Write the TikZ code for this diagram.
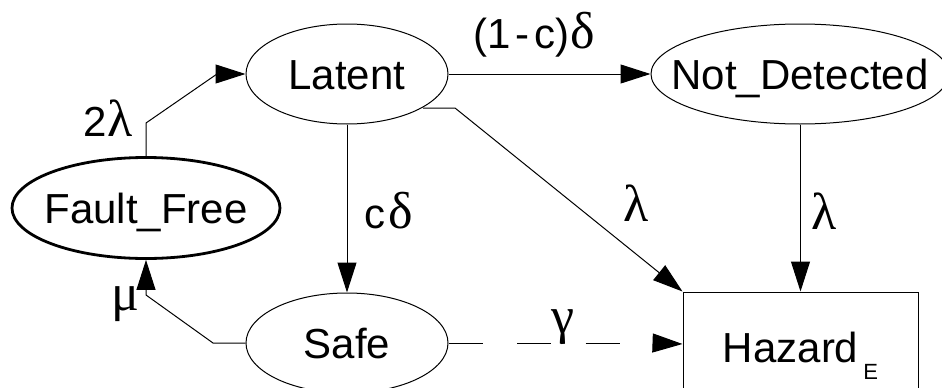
\documentclass[tikz,border=0pt]{standalone}
\usepackage{fontspec}
\setmainfont{Liberation Sans}
\newfontfamily\grk{Liberation Serif}
\usetikzlibrary{shapes.geometric,arrows.meta,calc}
\newcommand\zw[1]{\makebox[0pt]{#1}}
\newcommand\gkf{\fontsize{52}{56}\grk}
\begin{document}
\begin{tikzpicture}[x=1pt,y=-1pt,
  st/.style={ellipse,draw,line width=1pt,inner sep=0pt,minimum width=202pt,minimum height=100pt,
    font=\fontsize{42}{48}\selectfont,text height=30pt,text depth=0pt},
  arr/.style={line width=1pt,-{Triangle[length=30pt,width=19pt]}},
  lbl/.style={inner sep=0pt,font=\fontsize{42}{48}\selectfont},
  gk/.style={inner sep=0pt,font=\gkf}]
\useasboundingbox (0,0) rectangle (942,388);
\clip (0,0) rectangle (942,388);
% states
\node[st] (lat) at (347,74) {\zw{Latent}};
\node[st,minimum width=298pt] (nd) at (800,74) {\zw{Not\_Detected}};
\node[st,line width=2.8pt,minimum width=268pt,minimum height=101pt] (ff) at (146,208) {\zw{Fault\_Free}};
\node[st] (safe) at (347,343) {\zw{Safe}};
\node[draw,line width=1pt,rectangle,inner sep=0pt,minimum width=235pt,minimum height=104pt,
  font=\fontsize{42}{48}\selectfont,text height=36pt,text depth=0pt] (hz) at (800.5,344)
  {Hazard\hspace{5pt}\raisebox{-17pt}{\fontsize{22}{22}\selectfont E}};
% bend points
\coordinate (c1) at (146,123);
\coordinate (c2) at (217,74);
\coordinate (l1) at (423,108);
\coordinate (l2) at (455,108);
\coordinate (s1) at (213,343);
\coordinate (s2) at (146,295);
\coordinate (g1) at (653,343);
% connectors
\draw[arr] (ff.north) -- (c1) -- (c2) -- (lat.west);
\draw[arr] (lat.east) -- (nd.west);
\draw[arr] (lat.south) -- (safe.north);
\draw[arr] (l1) -- (l2) -- (hz.north west);
\draw[arr] (nd.south -| hz.north) -- (hz.north);
\draw[arr] (safe.west) -- (s1) -- (s2) -- (ff.south);
\draw[line width=1pt,dash pattern=on 34pt off 34.5pt] (safe.east) -- (g1);
\draw[arr] (g1) -- (hz.west);
% labels
\node[lbl] (t2l) at (108,118.5) {2{\gkf λ}};
\node[lbl] (t1c) at (534,35) {(1\hspace{5pt}-\hspace{5pt}c)\hspace{1pt}{\gkf δ}};
\node[lbl] (tcd) at (389,211) {c\hspace{3pt}{\gkf δ}};
\node[gk] (tl1) at (636,203) {λ};
\node[gk] (tl2) at (824,211) {λ};
\node[gk] (tmu) at (125,304) {μ};
\node[gk] (tga) at (563,327) {γ};
\end{tikzpicture}
\end{document}
